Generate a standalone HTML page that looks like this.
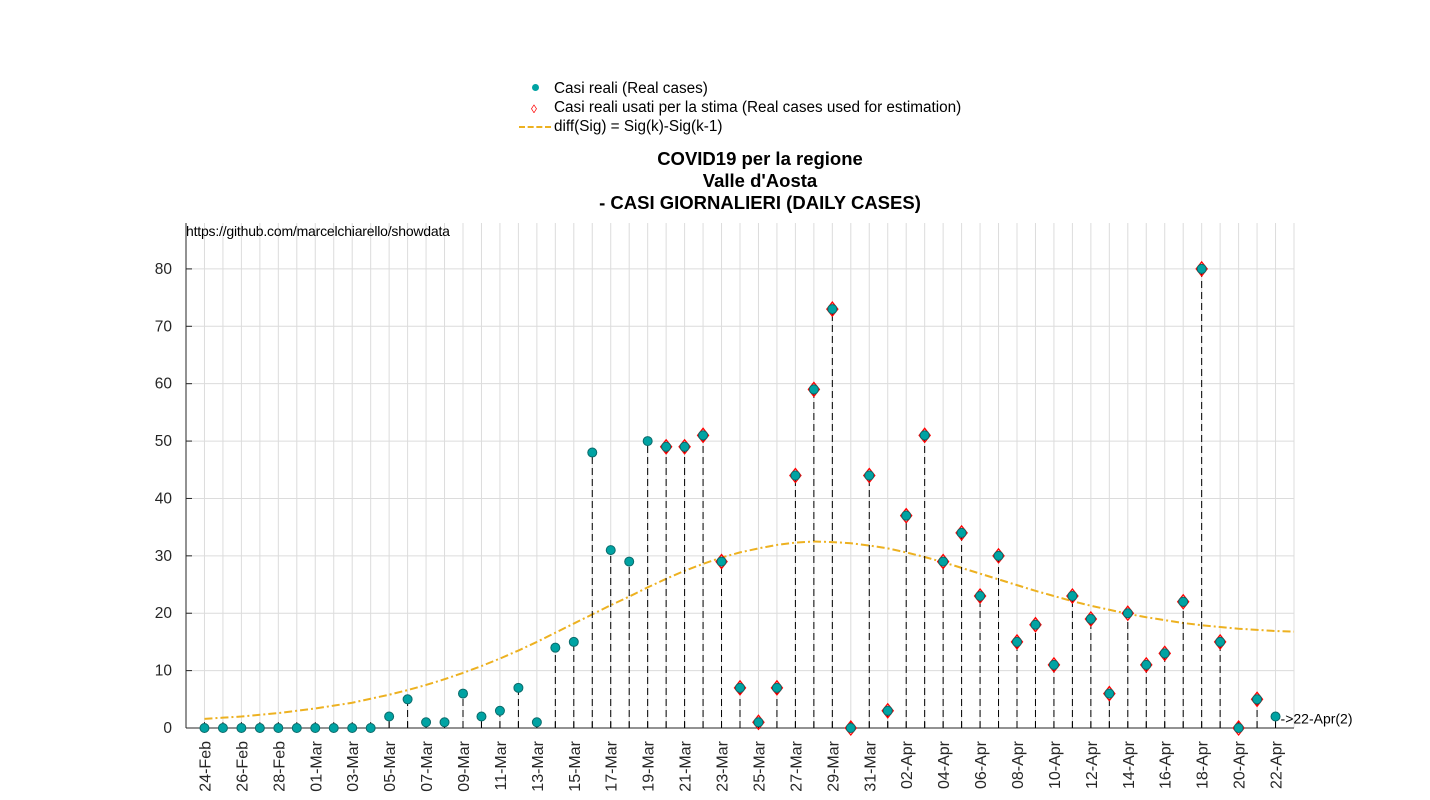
<!DOCTYPE html>
<html><head><meta charset="utf-8"><style>
body{margin:0;background:#fff;font-family:"Liberation Sans",sans-serif}
svg{display:block}
</style></head><body>
<svg id="c" width="1430" height="800" font-family="Liberation Sans, sans-serif"></svg>
<script>
const categories=["24-Feb","25-Feb","26-Feb","27-Feb","28-Feb","29-Feb","01-Mar","02-Mar","03-Mar","04-Mar","05-Mar","06-Mar","07-Mar","08-Mar","09-Mar","10-Mar","11-Mar","12-Mar","13-Mar","14-Mar","15-Mar","16-Mar","17-Mar","18-Mar","19-Mar","20-Mar","21-Mar","22-Mar","23-Mar","24-Mar","25-Mar","26-Mar","27-Mar","28-Mar","29-Mar","30-Mar","31-Mar","01-Apr","02-Apr","03-Apr","04-Apr","05-Apr","06-Apr","07-Apr","08-Apr","09-Apr","10-Apr","11-Apr","12-Apr","13-Apr","14-Apr","15-Apr","16-Apr","17-Apr","18-Apr","19-Apr","20-Apr","21-Apr","22-Apr"];
const realCases=[0,0,0,0,0,0,0,0,0,0,2,5,1,1,6,2,3,7,1,14,15,48,31,29,50,49,49,51,29,7,1,7,44,59,73,0,44,3,37,51,29,34,23,30,15,18,11,23,19,6,20,11,13,22,80,15,0,5,2];
const estStart=25, estEnd=57;
const fitCurve=[1.6,1.8,2.0,2.3,2.6,3.0,3.4,3.9,4.4,5.1,5.8,6.6,7.5,8.5,9.6,10.8,12.1,13.5,15.0,16.6,18.2,19.8,21.4,22.9,24.5,26.0,27.4,28.6,29.7,30.6,31.3,31.9,32.3,32.5,32.4,32.2,31.8,31.3,30.6,29.8,28.9,27.9,26.9,25.9,24.9,23.9,23.0,22.1,21.3,20.6,19.9,19.3,18.8,18.3,17.9,17.6,17.3,17.1,16.9,16.8];
const yTicks=[0,10,20,30,40,50,60,70,80];
const lastLabel="->22-Apr(2)";

const NS="http://www.w3.org/2000/svg",svg=document.getElementById('c');
const L=186,R=1294,T=223,B=728,xmin=-1,xmax=59,ymin=0,ymax=88;
const X=i=>L+(i-xmin)/(xmax-xmin)*(R-L);
const Y=v=>B-(v-ymin)/(ymax-ymin)*(B-T);
function el(t,a,p){const e=document.createElementNS(NS,t);for(const k in a)e.setAttribute(k,a[k]);(p||svg).appendChild(e);return e;}
const grid=el('g',{});


for(let i=0;i<=xmax;i++){el('line',{x1:X(i),x2:X(i),y1:T,y2:B,stroke:'#dcdcdc','stroke-width':1},grid);}
yTicks.forEach(v=>{el('line',{x1:L,x2:R,y1:Y(v),y2:Y(v),stroke:'#dcdcdc','stroke-width':1},grid);});
const ax=el('g',{});


el('line',{x1:L,x2:L,y1:T,y2:B,stroke:'#262626'},ax);
el('line',{x1:L,x2:R,y1:B,y2:B,stroke:'#262626'},ax);
yTicks.forEach(v=>{el('line',{x1:L,x2:L+6,y1:Y(v),y2:Y(v),stroke:'#262626'},ax);
 const t=el('text',{x:L-14,y:Y(v)+5,'text-anchor':'end','font-size':15.5,fill:'#262626'},ax);t.textContent=v;
 
 });
categories.forEach((c,i)=>{el('line',{x1:X(i),x2:X(i),y1:B,y2:B-6,stroke:'#262626'},ax);
 if(i%2===0){const t=el('text',{transform:`translate(${X(i)+6},${B+13}) rotate(-90)`,'text-anchor':'end','font-size':16,fill:'#262626'},ax);t.textContent=c;
 
 }});
let d='';fitCurve.forEach((v,i)=>{d+=(i?'L':'M')+X(i)+','+Y(v);});
const cp=el('path',{d:d,fill:'none',stroke:'#edb120','stroke-width':2,'stroke-dasharray':'8,3,2,3'});


realCases.forEach((v,i)=>{
 if(v>0){const s=el('line',{x1:X(i),x2:X(i),y1:B,y2:Y(v),stroke:'#000','stroke-width':1,'stroke-dasharray':'7,4'});
 
 }
 if(i>=estStart&&i<=estEnd){const x=X(i),y=Y(v);
  const dm=el('polygon',{points:`${x},${y-7} ${x+5.5},${y} ${x},${y+7} ${x-5.5},${y}`,fill:'none',stroke:'#ff0000','stroke-width':1.3});
  
  }
 const c=el('circle',{cx:X(i),cy:Y(v),r:4.5,fill:'#00a3a3',stroke:'#0a6a6a','stroke-width':1});
 
 
});
const ll=el('text',{x:X(58)+5,y:Y(realCases[58])+7,'font-size':14,fill:'#000'});ll.textContent=lastLabel;


</script>
<div style="position:absolute;left:0;top:0;width:1430px;height:800px;pointer-events:none">
<div style="position:absolute;left:186px;top:223px;font-size:14px;letter-spacing:-0.2px;color:#000">https://github.com/marcelchiarello/showdata</div>
<div style="position:absolute;left:390px;top:148px;width:740px;text-align:center;font-weight:bold;font-size:18.5px;line-height:22px;color:#000">COVID19 per la regione<br>Valle d'Aosta<br>- CASI GIORNALIERI (DAILY CASES)</div>
<div style="position:absolute;left:516px;top:79px;font-size:15.3px;line-height:19px;color:#000">
<div style="position:relative;padding-left:38px"><span style="position:absolute;left:16px;top:5px;width:7px;height:7px;border-radius:50%;background:#00a3a3"></span>Casi reali (Real cases)</div>
<div style="position:relative;padding-left:38px"><span style="position:absolute;left:15px;top:2px;color:#f00;font-size:12px">◊</span>Casi reali usati per la stima (Real cases used for estimation)</div>
<div style="position:relative;padding-left:38px"><span style="position:absolute;left:3px;top:9px;width:32px;border-top:2px dashed #edb120"></span>diff(Sig) = Sig(k)-Sig(k-1)</div>
</div>
</div>
</body></html>
